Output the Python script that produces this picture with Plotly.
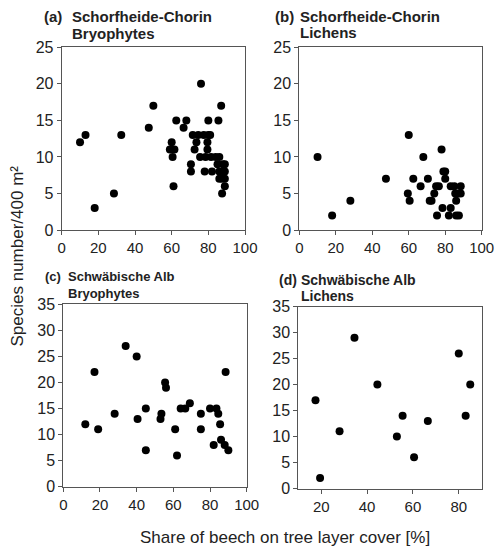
import plotly.graph_objects as go
from plotly.subplots import make_subplots

# Panel (a): Schorfheide-Chorin, bryophytes
a_x = [10, 13, 18, 28.5, 32.5, 47.5, 50, 59, 60, 60.5, 61.5, 61, 62.5, 66.5, 68,
       70.5, 70.5, 71.5, 72.5, 73.5, 74.5, 76, 75.5, 77.5, 78, 78.5, 79.5, 79.5,
       80, 80, 81, 81.5, 82, 84, 85, 85.5, 86, 86, 86, 87, 87.5, 87.5, 88, 88.5,
       89, 89, 89, 89]
a_y = [12, 13, 3, 5, 13, 14, 17, 11, 12, 10, 11, 6, 15, 14, 15,
       9, 8, 13, 11, 12, 13, 20, 10, 13, 8, 10, 12, 11,
       15, 13, 13, 10, 8, 10, 9, 15, 10, 8, 7, 17, 7, 5, 9, 8,
       9, 8, 7, 6]

# Panel (b): Schorfheide-Chorin, lichens
b_x = [10, 18, 28, 47.5, 60, 59.5, 60.5, 62.5, 66.5, 68, 70.5, 71.5, 72.5, 74,
       75, 76.5, 75.5, 78, 78.5, 79, 80, 80, 82, 83, 83, 85, 85.5, 86, 87, 86,
       87.5, 88.5, 88.5]
b_y = [10, 2, 4, 7, 13, 5, 4, 7, 6, 10, 7, 4, 4, 5,
       6, 6, 2, 11, 3, 8, 8, 7, 2, 6, 3, 6, 5, 4, 5, 2,
       2, 6, 5]

# Panel (c): Schwäbische Alb, bryophytes
c_x = [12, 17, 19, 28, 34, 40, 40.5, 45, 45, 53, 53.5, 55.5, 56, 61, 62, 64, 66.5,
       69, 75, 75, 80, 82, 83.5, 84.5, 85.5, 86, 88, 88.5, 90]
c_y = [12, 22, 11, 14, 27, 25, 13, 7, 15, 13, 14, 20, 19, 11, 6, 15, 15,
       16, 14, 11, 15, 8, 15, 14, 12, 9, 8, 22, 7]

# Panel (d): Schwäbische Alb, lichens
d_x = [17.5, 19.5, 28, 34.5, 44.5, 53, 55.5, 60.5, 66.5, 80, 83, 85]
d_y = [17, 2, 11, 29, 20, 10, 14, 6, 13, 26, 14, 20]

W, H = 498, 550
FONT = "Liberation Sans, Arial, sans-serif"

fig = make_subplots(rows=2, cols=2)

panels = [(a_x, a_y, 1, 1), (b_x, b_y, 1, 2), (c_x, c_y, 2, 1), (d_x, d_y, 2, 2)]
for xs, ys, r, c in panels:
    fig.add_trace(go.Scatter(
        x=xs, y=ys, mode='markers',
        marker=dict(color='black', size=8),
        showlegend=False, cliponaxis=False
    ), row=r, col=c)

# plot areas in pixels (left, right, top, bottom)
boxes = [(61.7, 245, 47.3, 230), (299.3, 481.7, 47.3, 230),
         (63.3, 246.7, 304.3, 486.7), (298.3, 481.7, 306.7, 488.5)]
x_ranges = [[0, 100], [0, 100], [0, 100], [10, 90]]
y_ranges = [[0, 25], [0, 25], [0, 35], [0, 35]]

axis_style = dict(showline=True, linecolor='#555', linewidth=1, mirror=True,
                  ticks='outside', ticklen=4, tickcolor='#555', showgrid=False,
                  zeroline=False, automargin=False)

for i, (l, rt, t, b) in enumerate(boxes):
    n = '' if i == 0 else str(i + 1)
    fig.layout['xaxis' + n].update(domain=[l / W, rt / W], range=x_ranges[i],
                                   tickmode='linear', tick0=0, dtick=20,
                                   tickfont=dict(family=FONT, size=15, color='#222'),
                                   **axis_style)
    fig.layout['yaxis' + n].update(domain=[1 - b / H, 1 - t / H], range=y_ranges[i],
                                   tickmode='linear', tick0=0, dtick=5,
                                   tickfont=dict(family=FONT, size=16, color='#222'),
                                   **axis_style)

# panel titles
titles = [
    ('(a)', 41.7, 'Schorfheide-Chorin', 'Bryophytes', 70, 16.7, 15),
    ('(b)', 272.7, 'Schorfheide-Chorin', 'Lichens', 298.3, 16.5, 15),
    ('(c)', 42.7, 'Schwäbische Alb', 'Bryophytes', 65.7, 276.7, 13),
    ('(d)', 276.7, 'Schwäbische Alb', 'Lichens', 299.3, 280, 14),
]
for lab, lx, line1, line2, tx, ty, fs in titles:
    for text, x, y in [(lab, lx, ty), (line1, tx, ty), (line2, tx, ty + 16.3)]:
        fig.add_annotation(text='<b>' + text + '</b>', x=x / W, y=1 - y / H,
                           xref='paper', yref='paper', xanchor='left', yanchor='middle',
                           showarrow=False, font=dict(family=FONT, size=fs, color='#222'))

fig.add_annotation(text='Species number/400 m²', x=17 / W, y=1 - 256.5 / H,
                   xref='paper', yref='paper', textangle=-90, showarrow=False,
                   xanchor='center', yanchor='middle',
                   font=dict(family=FONT, size=17, color='#222'))
fig.add_annotation(text='Share of beech on tree layer cover [%]', x=285 / W, y=1 - 537 / H,
                   xref='paper', yref='paper', showarrow=False,
                   xanchor='center', yanchor='middle',
                   font=dict(family=FONT, size=17, color='#222'))

fig.update_layout(width=W, height=H, margin=dict(l=0, r=0, t=0, b=0),
                  plot_bgcolor='white', paper_bgcolor='white')

# drop the default page margin so the figure sits at the window's corner
fig.write_html("out.html", config={'displayModeBar': False},
               post_script="document.body.style.margin='0';")
